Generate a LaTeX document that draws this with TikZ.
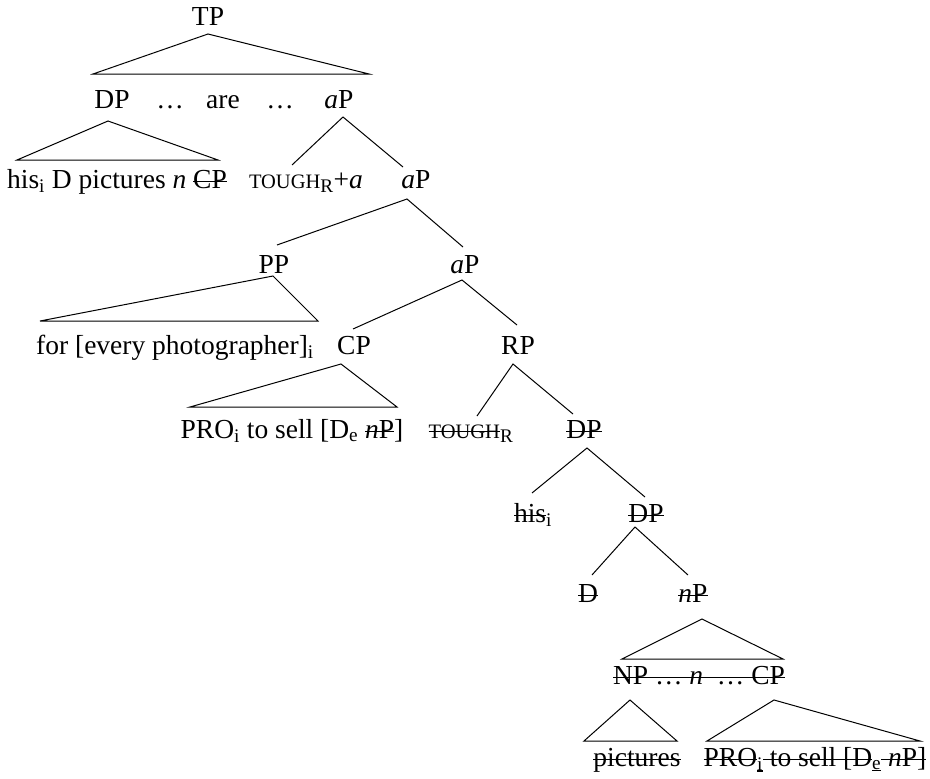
\documentclass[tikz,border=0pt]{standalone}
\usepackage{fontspec}
\setmainfont{Liberation Serif}
\newcommand\stk[1]{\setbox0=\hbox{#1}\rlap{\rule[0.22em]{\wd0}{0.05em}}\box0}
\newcommand\stkl[1]{\setbox0=\hbox{#1}\rlap{\rule[-0.08em]{\wd0}{0.08em}}\box0}
\newcommand\fsc[1]{{\fontsize{20.5}{24}\selectfont #1}}
\tikzset{
  lbl/.style={anchor=base, inner sep=0pt, font=\fontsize{27.5}{32}\selectfont},
  br/.style={line width=1pt, line join=miter}
}
\begin{document}
\begin{tikzpicture}[x=1pt, y=-1pt]
\fill[white] (0,0) rectangle (930,779);
\useasboundingbox (0,0) rectangle (930,779);
% nodes
\node[lbl] (TP)   at (208,25) {TP};
\node[lbl] (DP1)  at (112,108) {DP};
\node[lbl] (dA)   at (170,108) {…};
\node[lbl] (are)  at (223,108) {are};
\node[lbl] (dB)   at (280,108) {…};
\node[lbl] (aP1)  at (339,108) {\textit{a}P};
\node[lbl] (his)  at (117,188) {his\textsubscript{i} D pictures \textit{n} \stk{CP}};
\node[lbl] (tgh1) at (306,188) {\fsc{TOUGH}\textsubscript{R}+\textit{a}};
\node[lbl] (aP2)  at (416,188) {\textit{a}P};
\node[lbl] (PP)   at (274,273) {PP};
\node[lbl] (aP3)  at (465,273) {\textit{a}P};
\node[lbl] (for)  at (175,354) {for [every photographer]\textsubscript{i}};
\node[lbl] (CP)   at (354,354) {CP};
\node[lbl] (RP)   at (518,354) {RP};
\node[lbl] (PRO)  at (292,438) {PRO\textsubscript{i} to sell [D\textsubscript{e} \stk{\textit{n}P}]};
\node[lbl] (tgh2) at (471,438) {\stk{\fsc{TOUGH}}\textsubscript{R}};
\node[lbl] (DP2)  at (584,438) {\stk{DP}};
\node[lbl] (his2) at (533,522) {\stk{his}\textsubscript{i}};
\node[lbl] (DP3)  at (646,522) {\stk{DP}};
\node[lbl] (D)    at (588,602) {\stk{D}};
\node[lbl] (nP)   at (693,602) {\stk{\textit{n}P}};
\node[lbl] (NPCP) at (699,684) {\stk{NP … \textit{n} \ … CP}};
\node[lbl] (pic)  at (637,766) {\stk{pictures}};
\node[lbl] (PRO2) at (815,766) {\stk{PRO}\textsubscript{\stkl{i}}\stk{ to sell [D}\textsubscript{\stkl{e}}\stk{ \textit{n}P]}};
% connectors
\draw[br] ([shift={(0,9)}]TP.base) -- ([shift={(-19,-34)}]DP1.base) -- ([shift={(30,-34)}]aP1.base) -- cycle;
\draw[br] ([shift={(-4,13)}]DP1.base) -- ([shift={(-100,-28)}]his.base) -- ([shift={(101,-28)}]his.base) -- cycle;
\draw[br] ([shift={(-14,-23)}]tgh1.base) -- ([shift={(4,9)}]aP1.base) -- ([shift={(-13,-21)}]aP2.base);
\draw[br] ([shift={(3,-28)}]PP.base) -- ([shift={(-9,11)}]aP2.base) -- ([shift={(-2,-26)}]aP3.base);
\draw[br] ([shift={(-1,3)}]PP.base) -- ([shift={(-135,-33)}]for.base) -- ([shift={(143,-33)}]for.base) -- cycle;
\draw[br] ([shift={(-1,-25)}]CP.base) -- ([shift={(-3,7)}]aP3.base) -- ([shift={(-1,-29)}]RP.base);
\draw[br] ([shift={(-13,10)}]CP.base) -- ([shift={(-102,-31)}]PRO.base) -- ([shift={(105,-31)}]PRO.base) -- cycle;
\draw[br] ([shift={(6,-22)}]tgh2.base) -- ([shift={(-5,10)}]RP.base) -- ([shift={(-11,-24)}]DP2.base);
\draw[br] ([shift={(-1,-29)}]his2.base) -- ([shift={(3,10)}]DP2.base) -- ([shift={(-1,-25)}]DP3.base);
\draw[br] ([shift={(4,-27)}]D.base) -- ([shift={(-11,5)}]DP3.base) -- ([shift={(-5,-27)}]nP.base);
\draw[br] ([shift={(9,17)}]nP.base) -- ([shift={(-77,-25)}]NPCP.base) -- ([shift={(84,-25)}]NPCP.base) -- cycle;
\draw[br] ([shift={(-69,16)}]NPCP.base) -- ([shift={(-53,-25)}]pic.base) -- ([shift={(40,-25)}]pic.base) -- cycle;
\draw[br] ([shift={(75,16)}]NPCP.base) -- ([shift={(-108,-25)}]PRO2.base) -- ([shift={(105,-25)}]PRO2.base) -- cycle;
\end{tikzpicture}
\end{document}
